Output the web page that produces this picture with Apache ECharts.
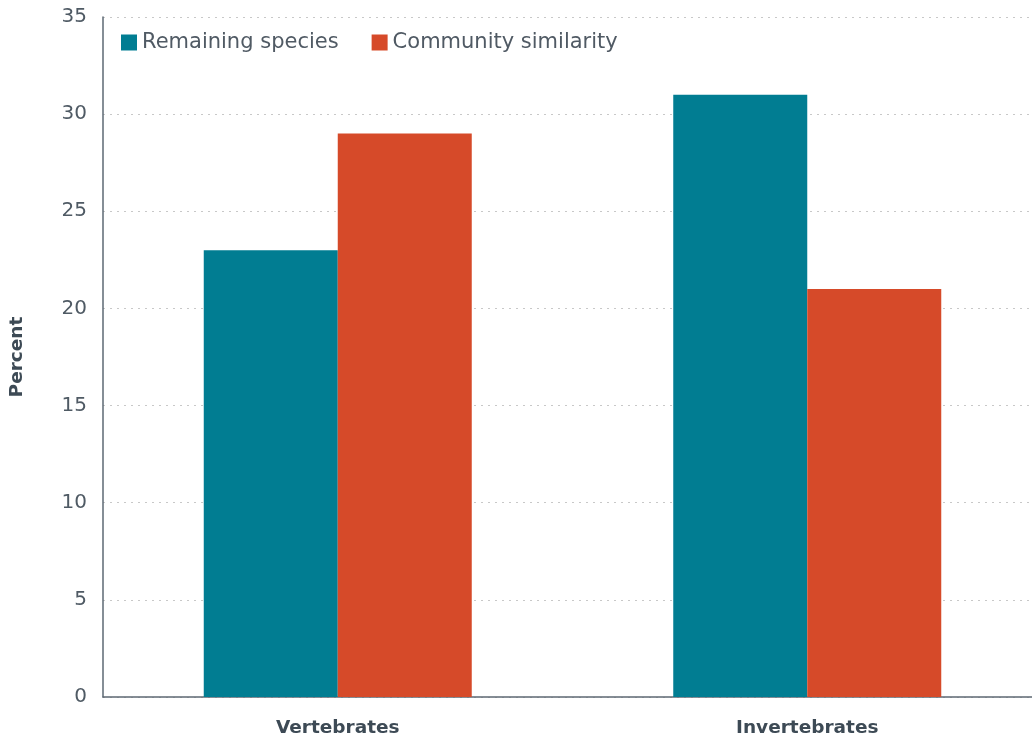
<!DOCTYPE html>
<html>
<head>
<meta charset="utf-8">
<script src="https://cdn.jsdelivr.net/npm/echarts@6/dist/echarts.min.js"></script>
<style>html,body{margin:0;padding:0;background:#fff;overflow:hidden;width:1032px;height:738px}#c{width:1042px;height:738px}</style>
</head>
<body>
<div id="c"></div>
<script>
const categories = ['Vertebrates', 'Invertebrates'];
const remainingSpecies = [23, 31];
const communitySimilarity = [29, 21];
const yTicks = [0, 5, 10, 15, 20, 25, 30, 35];

const chart = echarts.init(document.getElementById('c'));
const font = '"DejaVu Sans", sans-serif';
chart.setOption({
  animation: false,
  textStyle: { fontFamily: font },
  legend: {
    left: 121, top: 32, padding: 0,
    itemWidth: 16, itemHeight: 16, itemGap: 33,
    icon: 'rect',
    textStyle: { fontSize: 21, color: '#505a64', fontFamily: font },
    data: ['Remaining species', 'Community similarity']
  },
  grid: { left: 100, right: 0, top: 17, bottom: 41, containLabel: false },
  xAxis: {
    type: 'category',
    data: categories,
    axisLine: { lineStyle: { color: '#5d6873', width: 1.5 } },
    axisTick: { show: false },
    axisLabel: { fontSize: 18.5, fontWeight: 'bold', color: '#3d4a55', margin: 22, fontFamily: font }
  },
  yAxis: {
    type: 'value',
    min: yTicks[0], max: yTicks[yTicks.length - 1], interval: 5,
    name: 'Percent', nameLocation: 'middle', nameGap: 76, nameRotate: 90,
    nameTextStyle: { fontSize: 18.5, fontWeight: 'bold', color: '#3d4a55', fontFamily: font },
    axisLine: { show: true, lineStyle: { color: '#5d6873', width: 1.5 } },
    axisTick: { show: false },
    axisLabel: { fontSize: 20, color: '#4f5a64', margin: 16, fontFamily: font },
    splitLine: { lineStyle: { color: '#c8c8c8', type: [2, 5], width: 1 } }
  },
  series: [
    { name: 'Remaining species', type: 'bar', data: remainingSpecies, barWidth: 134, barGap: '0%',
      itemStyle: { color: '#017d92' } },
    { name: 'Community similarity', type: 'bar', data: communitySimilarity, barWidth: 134, barGap: '0%',
      itemStyle: { color: '#d64a29' } }
  ]
});
</script>
</body>
</html>
